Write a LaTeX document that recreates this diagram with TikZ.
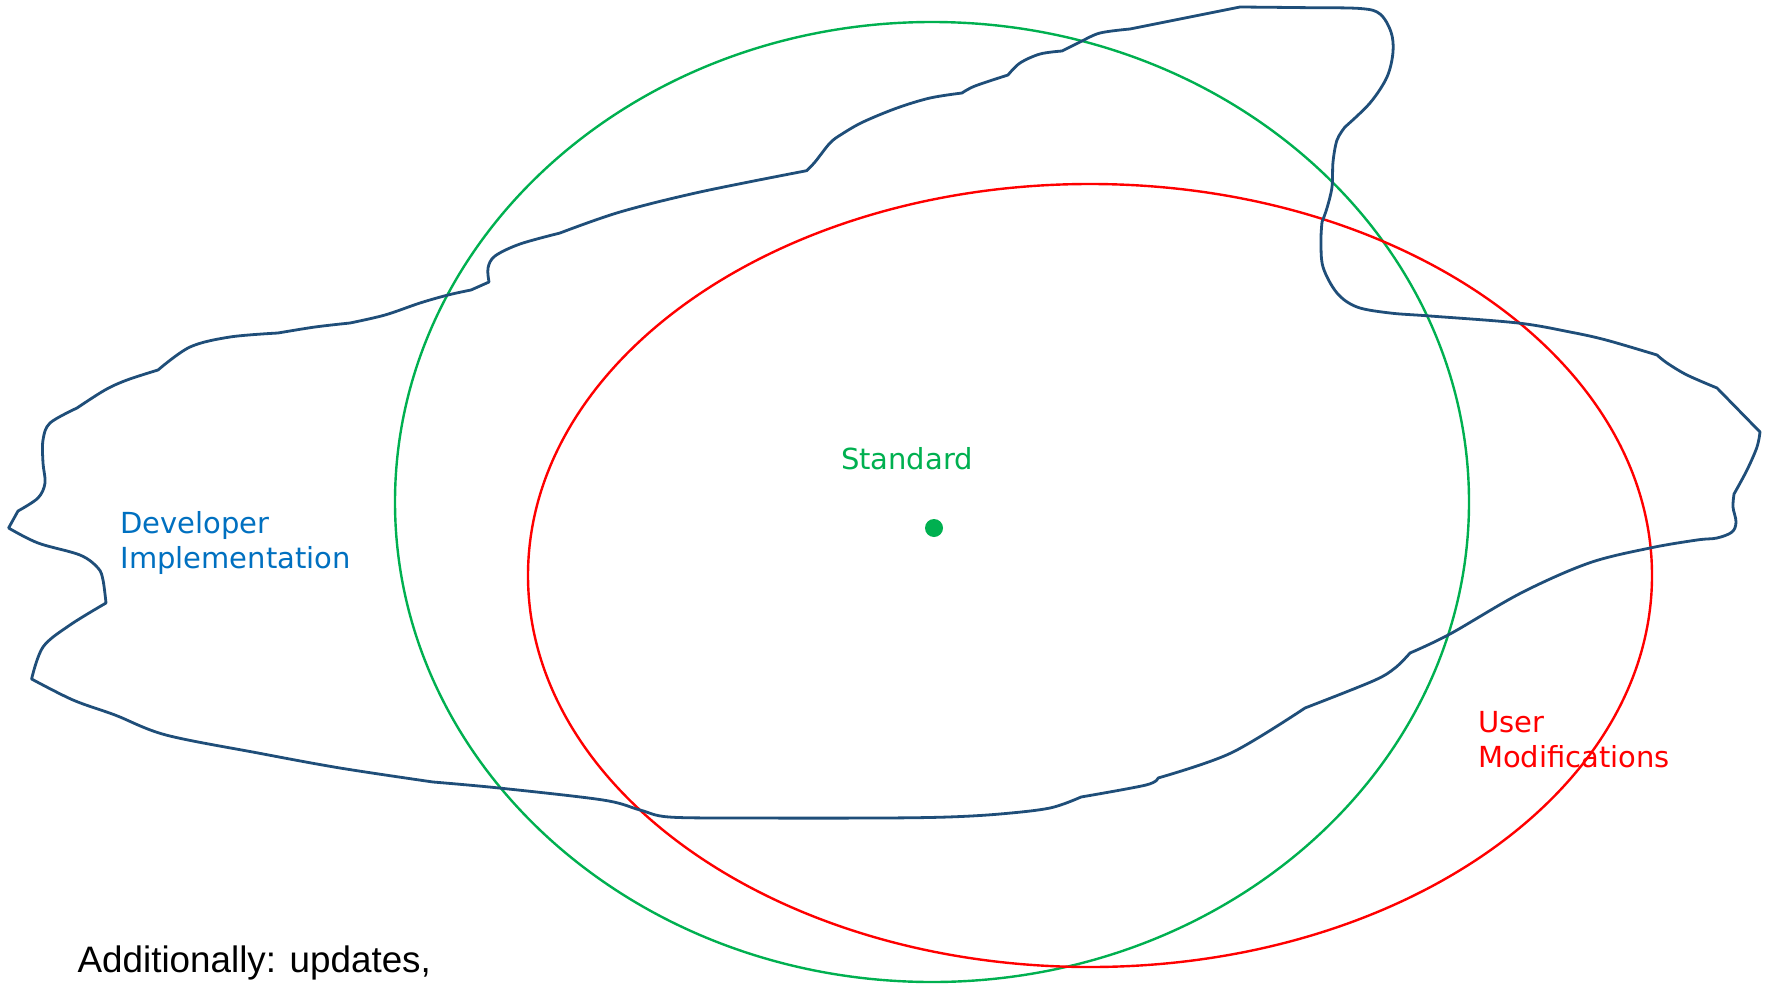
\documentclass[tikz,border=0pt]{standalone}
\usepackage{fontspec}
\setmainfont{DejaVu Sans}
\newfontfamily\arialfont{Liberation Sans}
\definecolor{blobblue}{HTML}{1F4E79}
\definecolor{stdgreen}{HTML}{00B050}
\definecolor{txtblue}{HTML}{0070C0}
\definecolor{usrred}{HTML}{FF0000}
\begin{document}
\begin{tikzpicture}[x=1pt,y=-1pt,
  blob/.style={draw=blobblue,line width=2.8pt,line join=round},
  greenring/.style={draw=stdgreen,line width=2.4pt},
  redring/.style={draw=usrred,line width=2.4pt},
  lbl/.style={inner sep=0pt,outer sep=0pt,font=\fontsize{29}{35}\selectfont,align=left},
  sm/.style={smooth,tension=0.55}]
\useasboundingbox[fill=white] (0,0) rectangle (1769,985);
\draw[greenring] (932,502) ellipse [x radius=537pt, y radius=480pt];
\draw[redring] (1090,575.5) ellipse [x radius=562pt, y radius=391.5pt];
\draw[blob] (8.6,528) -- (18,511)
 -- plot[sm] coordinates {(18,511) (38,498) (45,483) (43,463) (43,440) (50,423) (77,408)}
 -- plot[sm] coordinates {(77,408) (105,390) (127,380) (158,370)}
 -- plot[sm] coordinates {(158,370) (190,347) (230,337) (278,333)}
 -- plot[sm] coordinates {(278,333) (315,327) (350,323)}
 -- plot[sm] coordinates {(350,323) (385,315) (420,303) (448,295) (471,290)}
 -- (489,282)
 -- plot[sm] coordinates {(489,282) (488,268) (495,256) (520,244) (560,233)}
 -- plot[sm] coordinates {(560,233) (620,212) (700,192) (806.6,170.7)}
 -- plot[sm] coordinates {(806.6,170.7) (815,162) (830,143) (842,134) (863,122) (897,108) (930,98) (962,93)}
 -- plot[sm] coordinates {(962,93) (975,86) (1008,75)}
 -- plot[sm] coordinates {(1008,75) (1020,63) (1040,54) (1062,51)}
 -- plot[sm] coordinates {(1062,51) (1080,42) (1100,33) (1130,29)}
 -- (1240,7)
 -- plot[sm] coordinates {(1240,7) (1300,7.6) (1360,8.5) (1380,14) (1391,32) (1393,52) (1387,77) (1370,103) (1345,127)}
 -- plot[sm] coordinates {(1345,127) (1337,140) (1333,162) (1332,187) (1327,208) (1322,222)}
 -- plot[sm] coordinates {(1322,222) (1321,240) (1323,267) (1337,293) (1357,307) (1390,313) (1430,316) (1518,323) (1570,332) (1606,340) (1657,355)}
 -- plot[sm] coordinates {(1657,355) (1667,363) (1687,375) (1717,388)}
 -- (1760,432)
 -- plot[sm] coordinates {(1760,432) (1757,447) (1747,470) (1734,494)}
 -- plot[sm] coordinates {(1734,494) (1733,507) (1736,522) (1732,532) (1717,538) (1697,540) (1650,548) (1589,563) (1521,593) (1450,634) (1410,653)}
 -- plot[sm] coordinates {(1410,653) (1395,668) (1373,681) (1305,708)}
 -- plot[sm] coordinates {(1305,708) (1231,753) (1158,778)}
 -- plot[sm] coordinates {(1158,778) (1146,785) (1081,797)}
 -- plot[sm] coordinates {(1081,797) (1050,808) (1000,814) (948,817) (880,818) (746,818) (669,817) (640,810) (603,800) (499,788) (433,782)}
 -- plot[sm] coordinates {(433,782) (340,768) (258,753) (166,735) (115,715) (73,700) (31.6,679)}
 -- plot[sm] coordinates {(31.6,679) (43,647) (70,625) (106,603)}
 -- plot[sm] coordinates {(106,603) (103,580) (98,568) (80,555) (38,543) (8.6,528)}
 -- cycle;
\fill[stdgreen] (934,528) circle [radius=9pt];
\node[lbl,text=stdgreen,anchor=base west] (std) at (841,469) {Standard};
\node[lbl,text=txtblue,anchor=base west] (dev) at (120.5,568) {Developer\\Implementation};
\node[lbl,text=usrred,anchor=base west] (usr) at (1478,767) {User\\Modifications};
\node[inner sep=0pt,anchor=base west,font=\arialfont\fontsize{36.8}{44}\selectfont] (add) at (77.5,972) {Additionally: updates,};
\end{tikzpicture}
\end{document}
